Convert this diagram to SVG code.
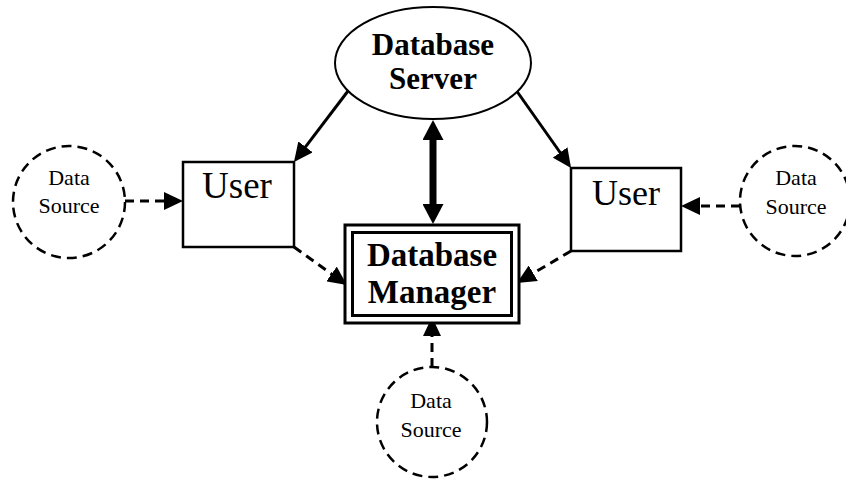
<svg xmlns="http://www.w3.org/2000/svg" width="846" height="479" viewBox="0 0 846 479">
<defs>
<style>
.t{font-family:"Liberation Serif","Times New Roman",serif;fill:#000;text-anchor:middle}
.b{font-weight:bold}
.box{fill:#fff;stroke:#000;stroke-width:2.5}
.src{fill:#fff;stroke:#000;stroke-width:2.5;stroke-dasharray:10 6}
.solid{fill:none;stroke:#000;stroke-width:3}
.dash{fill:none;stroke:#000;stroke-width:3;stroke-dasharray:9 6}
.thick{fill:none;stroke:#000;stroke-width:7}
</style>
<marker id="ah" markerUnits="userSpaceOnUse" markerWidth="19" markerHeight="18" refX="16" refY="9" orient="auto" viewBox="0 0 19 18">
<path d="M0,0 L19,9 L0,18 z" fill="#000"/>
</marker>
<marker id="big" markerUnits="userSpaceOnUse" markerWidth="20" markerHeight="21" refX="0" refY="10.5" orient="auto-start-reverse" viewBox="0 0 20 21">
<path d="M0,0 L20,10.5 L0,21 z" fill="#000"/>
</marker>
</defs>

<g id="connectors">
<line class="solid" x1="348" y1="91" x2="295.8" y2="159.6" marker-end="url(#ah)"/>
<line class="solid" x1="516" y1="90" x2="569.3" y2="165.5" marker-end="url(#ah)"/>
<line class="thick" x1="433" y1="140" x2="433" y2="204" marker-start="url(#big)" marker-end="url(#big)"/>
<line class="dash" x1="125" y1="201" x2="180" y2="201" marker-end="url(#ah)"/>
<line class="dash" x1="740" y1="206" x2="684" y2="206" marker-end="url(#ah)"/>
<line class="dash" x1="294" y1="247" x2="344.5" y2="283.3" marker-end="url(#ah)"/>
<line class="dash" x1="571" y1="251" x2="519.5" y2="281.4" marker-end="url(#ah)"/>
<line class="dash" x1="432" y1="367" x2="432" y2="320" marker-end="url(#ah)"/>
</g>

<g id="database-server">
<ellipse cx="433" cy="63" rx="98" ry="56" fill="#fff" stroke="#000" stroke-width="2"/>
<text class="t b" x="433" y="55" font-size="31">Database</text>
<text class="t b" x="433" y="89" font-size="31">Server</text>
</g>

<g id="user-left">
<rect class="box" x="183" y="162" width="111" height="85"/>
<text class="t" x="237" y="198" font-size="37">User</text>
</g>

<g id="user-right">
<rect class="box" x="571" y="168" width="110" height="83"/>
<text class="t" x="626" y="205" font-size="36">User</text>
</g>

<g id="database-manager">
<rect x="345" y="225" width="174" height="98" fill="#fff" stroke="#000" stroke-width="3"/>
<rect x="352.5" y="232.5" width="159" height="83" fill="none" stroke="#000" stroke-width="3"/>
<text class="t b" x="432" y="266" font-size="33">Database</text>
<text class="t b" x="432" y="303" font-size="33">Manager</text>
</g>

<g id="source-left">
<circle class="src" cx="69" cy="202" r="56"/>
<text class="t" x="69" y="185" font-size="22">Data</text>
<text class="t" x="69" y="213" font-size="22">Source</text>
</g>

<g id="source-right">
<circle class="src" cx="795" cy="201" r="55"/>
<text class="t" x="796" y="185" font-size="22">Data</text>
<text class="t" x="796" y="214" font-size="22">Source</text>
</g>

<g id="source-bottom">
<circle class="src" cx="432" cy="422" r="55"/>
<text class="t" x="431" y="408" font-size="22">Data</text>
<text class="t" x="431" y="437" font-size="22">Source</text>
</g>
</svg>
